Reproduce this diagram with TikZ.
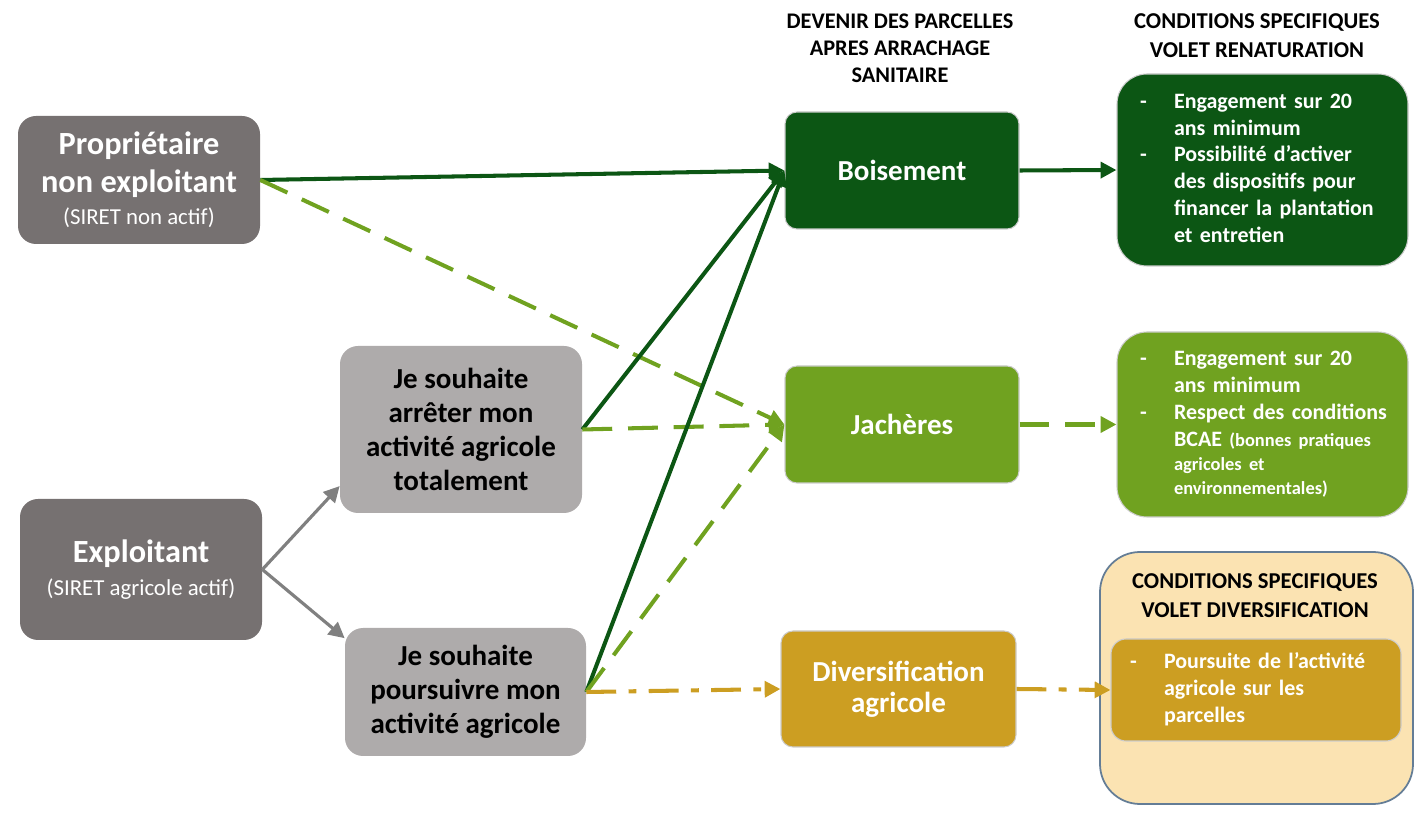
\documentclass[tikz,border=0pt]{standalone}
\usepackage{fontspec}
\setmainfont{Carlito}
\usetikzlibrary{arrows.meta}

\definecolor{grisfonce}{RGB}{118,113,113}
\definecolor{grisclair}{RGB}{174,171,171}
\definecolor{grisfleche}{RGB}{128,128,128}
\definecolor{vertfonce}{RGB}{12,86,20}
\definecolor{vert}{RGB}{112,162,32}
\definecolor{ocre}{RGB}{204,158,34}
\definecolor{beige}{RGB}{251,227,178}
\definecolor{bordure}{RGB}{100,125,150}

% liste a tirets : colonne du tiret, puis le texte
\newcommand\puces[1]{\begin{tabular}{@{}p{1.55em}@{}l@{}}#1\end{tabular}}

\begin{document}
\begin{tikzpicture}[
  >={Triangle[length=9pt,width=9pt]},
  profil/.style={rounded corners=0.36cm, fill=grisfonce, text=white, align=center,
    minimum width=4.84cm, font=\fontsize{18.4}{21.5}\selectfont\bfseries},
  choix/.style={rounded corners=0.36cm, fill=grisclair, text=black, align=center,
    minimum width=4.84cm, font=\fontsize{16.5}{19.4}\selectfont\bfseries},
  devenir/.style={rounded corners=0.24cm, draw=white!80!black, line width=0.6pt,
    text=white, align=center, minimum width=4.68cm, minimum height=2.34cm,
    font=\fontsize{16.5}{17.8}\selectfont\bfseries},
  conditions/.style={rounded corners=0.6cm, draw=white!80!black, line width=0.6pt,
    text=white, align=left, text width=4.9cm, inner xsep=0.46cm,
    font=\fontsize{12.5}{15.3}\selectfont\bfseries},
  titre colonne/.style={align=center, font=\fontsize{12.7}{15.3}\selectfont\bfseries},
  lien plein/.style={->, line width=2.3pt, draw=vertfonce},
  lien tirets/.style={->, line width=2.3pt, draw=vert, dash pattern=on 17pt off 9pt},
  lien mixte/.style={->, line width=2.3pt, draw=ocre,
    dash pattern=on 17pt off 7pt on 4.5pt off 7pt},
  lien gris/.style={->, line width=1.8pt, draw=grisfleche}
]
  \useasboundingbox (0,0) rectangle (28.48,-16.32);

  % Profils du demandeur et choix de l'exploitant
  \node[profil,minimum height=2.56cm] (prop) at (2.78,-3.60)
    {Propriétaire\\non exploitant\\[-3pt]{\fontsize{13}{15}\selectfont\mdseries (SIRET non actif)}};
  \node[profil,minimum height=2.82cm] (expl) at (2.82,-11.39)
    {Exploitant\\[-3pt]{\fontsize{13}{15}\selectfont\mdseries (SIRET agricole actif)}};
  \node[choix,minimum height=3.34cm] (arret) at (9.22,-8.59)
    {Je souhaite\\arrêter mon\\activité agricole\\totalement};
  \node[choix,minimum height=2.56cm,minimum width=4.82cm] (pours) at (9.31,-13.84)
    {Je souhaite\\poursuivre mon\\activité agricole};

  % Devenir des parcelles
  \node[titre colonne] (titredev) at (18.00,-0.96)
    {DEVENIR DES PARCELLES\\APRES ARRACHAGE\\SANITAIRE};
  \node[devenir,fill=vertfonce] (bois) at (18.04,-3.41) {Boisement};
  \node[devenir,fill=vert] (jach) at (18.04,-8.49) {Jachères};
  \node[devenir,fill=ocre,minimum width=4.70cm,minimum height=2.32cm] (divers)
    at (17.97,-13.78) {Diversification\\agricole};

  % Conditions specifiques
  \node[titre colonne,font=\fontsize{12.9}{16.4}\selectfont\bfseries] (titreren)
    at (25.14,-0.72) {CONDITIONS SPECIFIQUES\\VOLET RENATURATION};
  \node[conditions,fill=vertfonce,minimum height=3.84cm] (cond1) at (25.25,-3.40)
    {\puces{- & Engagement sur 20\\ & ans minimum\\
     - & Possibilité d’activer\\ & des dispositifs pour\\ & financer la plantation\\ & et entretien}};
  \node[conditions,fill=vert,minimum height=3.70cm] (cond2) at (25.25,-8.49)
    {\puces{- & Engagement sur 20\\ & ans minimum\\
     - & Respect des conditions\\
       & BCAE {\fontsize{10.5}{13}\selectfont (bonnes pratiques}\\[-1.7pt]
       & {\fontsize{10.5}{13}\selectfont agricoles et}\\[-1.7pt]
       & {\fontsize{10.5}{13}\selectfont environnementales)}}};

  \node[rounded corners=0.8cm, fill=beige, draw=bordure, line width=1pt,
    minimum width=6.26cm, minimum height=5.04cm] (cadre) at (25.13,-13.56) {};
  \node[titre colonne,font=\fontsize{12.9}{16.4}\selectfont\bfseries] (titrediv)
    at (25.10,-11.92) {CONDITIONS SPECIFIQUES\\VOLET DIVERSIFICATION};
  \node[conditions,fill=ocre,rounded corners=0.3cm,text width=5.04cm,inner xsep=0.38cm,
    minimum height=2.04cm] (cond3) at (25.12,-13.80)
    {\puces{- & Poursuite de l’activité\\ & agricole sur les\\ & parcelles}};

  % Liens
  \path (expl.east) edge[lien gris] (arret.205)
                    edge[lien gris] (pours.156);
  \path (prop.east) edge[lien plein] (bois.west)
                    edge[lien tirets] (jach.west)
        (arret.east) edge[lien plein] (bois.west)
                     edge[lien tirets] (jach.west)
        (pours.east) edge[lien plein] (bois.west)
                     edge[lien tirets] (jach.west)
                     edge[lien mixte] (divers.west)
        (bois.east) edge[lien plein] (cond1.west)
        (jach.east) edge[lien tirets] (cond2.west)
        (divers.east) edge[lien mixte] (cond3.west);
\end{tikzpicture}
\end{document}
